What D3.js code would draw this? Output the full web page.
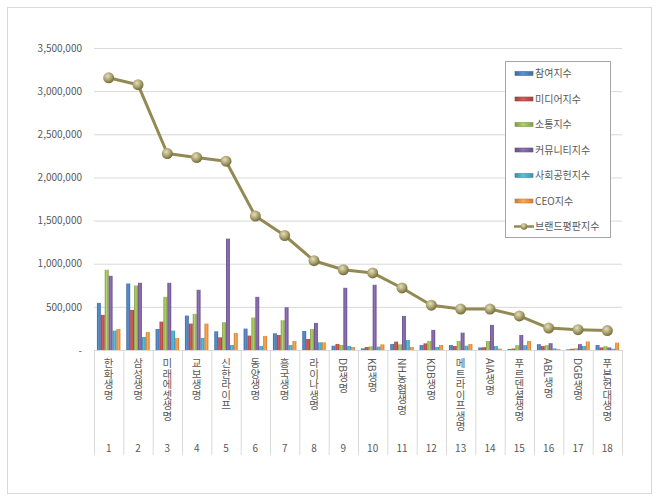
<!DOCTYPE html>
<html>
<head>
<meta charset="utf-8">
<script src="https://cdn.jsdelivr.net/npm/d3@7"></script>
<style>
  body { margin: 0; background: #fff; }
  text { font-family: "Noto Sans CJK KR", "Noto Sans", sans-serif; }
</style>
</head>
<body>
<svg id="chart"></svg>
<script>
const companies = ["한화생명", "삼성생명", "미래에셋생명", "교보생명", "신한라이프", "동양생명", "흥국생명", "라이나생명", "DB생명", "KB생명", "NH농협생명", "KDB생명", "메트라이프생명", "AIA생명", "푸르덴셜생명", "ABL생명", "DGB생명", "푸본현대생명"];
const ranks = ["1", "2", "3", "4", "5", "6", "7", "8", "9", "10", "11", "12", "13", "14", "15", "16", "17", "18"];

const participation = [546000, 771000, 244000, 399000, 217000, 248000, 194000, 221000, 50000, 19000, 70000, 58000, 58000, 29000, 12000, 68000, 8000, 58000];
const media = [407000, 465000, 329000, 306000, 147000, 167000, 174000, 128000, 70000, 35000, 97000, 77000, 46000, 33000, 17000, 46000, 13000, 30000];
const communication = [930000, 748000, 616000, 419000, 322000, 376000, 345000, 244000, 58000, 42000, 66000, 105000, 105000, 105000, 56000, 56000, 20000, 44000];
const community = [860000, 779000, 779000, 698000, 1291000, 616000, 496000, 314000, 721000, 756000, 395000, 233000, 201000, 291000, 174000, 79000, 68000, 30000];
const social = [225000, 151000, 225000, 140000, 58000, 46000, 58000, 89000, 46000, 39000, 116000, 35000, 50000, 46000, 56000, 19000, 46000, 15000];
const ceo = [244000, 209000, 140000, 306000, 198000, 163000, 105000, 89000, 35000, 66000, 35000, 58000, 70000, 17000, 105000, 10000, 99000, 85000];
const brand = [3155000, 3075000, 2277000, 2230000, 2188000, 1552000, 1327000, 1035000, 930000, 893000, 719000, 519000, 475000, 475000, 395000, 254000, 236000, 225000];

const seriesNames = ["참여지수", "미디어지수", "소통지수", "커뮤니티지수", "사회공헌지수", "CEO지수"];
const seriesValues = [participation, media, communication, community, social, ceo];
const seriesColors = ["#4f81bd", "#c0504d", "#9bbb59", "#8064a2", "#4bacc6", "#f79646"];
const lineName = "브랜드평판지수";
const yTicks = [0, 500000, 1000000, 1500000, 2000000, 2500000, 3000000, 3500000];

const W = 660, H = 503;
const m = { top: 48, right: 38, bottom: 153, left: 94 };
const iW = W - m.left - m.right;
const iH = H - m.top - m.bottom;

const svg = d3.select("#chart").attr("width", W).attr("height", H);

// outer chart border
svg.append("rect")
  .attr("x", 7.5).attr("y", 7.5).attr("width", 644).attr("height", 486)
  .attr("fill", "#fff").attr("stroke", "#d9d9d9");

// gradients for the bars and markers
const defs = svg.append("defs");
seriesColors.forEach((c, i) => {
  const gr = defs.append("linearGradient").attr("id", "bar" + i)
    .attr("x1", 0).attr("x2", 1).attr("y1", 0).attr("y2", 0);
  gr.append("stop").attr("offset", 0).attr("stop-color", d3.color(c).darker(0.6));
  gr.append("stop").attr("offset", 0.45).attr("stop-color", d3.color(c).brighter(0.35));
  gr.append("stop").attr("offset", 1).attr("stop-color", d3.color(c).darker(0.5));
});
const rg = defs.append("radialGradient").attr("id", "dot")
  .attr("cx", 0.4).attr("cy", 0.35).attr("r", 0.65);
rg.append("stop").attr("offset", 0).attr("stop-color", "#e4dfbd");
rg.append("stop").attr("offset", 0.6).attr("stop-color", "#a79e6a");
rg.append("stop").attr("offset", 1).attr("stop-color", "#746b3e");

const x = d3.scaleBand().domain(d3.range(companies.length)).range([0, iW]).padding(0);
const x1 = d3.scaleBand().domain(d3.range(seriesNames.length))
  .range([x.bandwidth() * 0.1, x.bandwidth() * 0.9]).padding(0);
const y = d3.scaleLinear().domain([0, 3500000]).range([iH, 0]);

const g = svg.append("g").attr("transform", `translate(${m.left},${m.top})`);

// Y axis with gridlines
g.append("g")
  .call(d3.axisLeft(y).tickValues(yTicks).tickSizeInner(-iW).tickSizeOuter(0).tickPadding(12)
    .tickFormat(d => d === 0 ? "-" : d3.format(",")(d)))
  .call(ax => {
    ax.select(".domain").remove();
    ax.selectAll(".tick line").attr("stroke", "#d9d9d9");
    ax.selectAll(".tick text").style("fill", "#595959").style("font-size", "10px");
  });

// category separators
g.append("g").selectAll("line")
  .data(d3.range(companies.length + 1)).join("line")
  .attr("x1", i => i < companies.length ? x(i) + 0.5 : iW + 0.5)
  .attr("x2", i => i < companies.length ? x(i) + 0.5 : iW + 0.5)
  .attr("y1", iH).attr("y2", iH + 105)
  .attr("stroke", "#d9d9d9");

// category names (vertical) and rank numbers
const cat = g.append("g").selectAll("g")
  .data(companies).join("g")
  .attr("transform", (d, i) => `translate(${x(i) + x.bandwidth() / 2},0)`);
cat.append("text")
  .attr("x", 0).attr("y", iH + 8)
  .style("writing-mode", "vertical-rl")
  .style("font-size", "10.5px").style("fill", "#595959")
  .text(d => d);
cat.append("text")
  .attr("x", 0).attr("y", iH + 102)
  .attr("text-anchor", "middle")
  .style("font-size", "10px").style("fill", "#595959")
  .text((d, i) => ranks[i]);

// bars
const groups = g.append("g").selectAll("g")
  .data(companies).join("g")
  .attr("transform", (d, i) => `translate(${x(i)},0)`);
groups.selectAll("rect")
  .data((d, i) => seriesValues.map((arr, s) => ({ s, v: arr[i] })))
  .join("rect")
  .attr("x", d => x1(d.s))
  .attr("width", x1.bandwidth())
  .attr("y", d => y(d.v))
  .attr("height", d => iH - y(d.v))
  .attr("fill", d => `url(#bar${d.s})`);

// brand reputation line
const line = d3.line().x((d, i) => x(i) + x.bandwidth() / 2).y(d => y(d));
g.append("path")
  .datum(brand)
  .attr("d", line)
  .attr("fill", "none")
  .attr("stroke", "#938953")
  .attr("stroke-width", 3)
  .attr("stroke-linejoin", "round");
g.append("g").selectAll("circle")
  .data(brand).join("circle")
  .attr("cx", (d, i) => x(i) + x.bandwidth() / 2)
  .attr("cy", d => y(d))
  .attr("r", 5.5)
  .attr("fill", "url(#dot)");

// legend
const lg = svg.append("g");
lg.append("rect")
  .attr("x", 505.5).attr("y", 61.5).attr("width", 105).attr("height", 176)
  .attr("fill", "#fff").attr("stroke", "#a6a6a6");
const rowY = d3.range(7).map(i => 73.5 + i * 25.5);
seriesNames.forEach((n, i) => {
  lg.append("rect")
    .attr("x", 515).attr("y", rowY[i] - 2).attr("width", 18).attr("height", 4)
    .attr("fill", `url(#bar${i})`).attr("stroke", d3.color(seriesColors[i]).darker(0.6)).attr("stroke-width", 0.6);
  lg.append("text")
    .attr("x", 535).attr("y", rowY[i]).attr("dy", "0.35em")
    .style("font-size", "10px").style("fill", "#595959")
    .text(n);
});
lg.append("line")
  .attr("x1", 514).attr("x2", 534).attr("y1", rowY[6]).attr("y2", rowY[6])
  .attr("stroke", "#938953").attr("stroke-width", 2.5);
lg.append("circle")
  .attr("cx", 524).attr("cy", rowY[6]).attr("r", 3.2).attr("fill", "url(#dot)");
lg.append("text")
  .attr("x", 535).attr("y", rowY[6]).attr("dy", "0.35em")
  .style("font-size", "10px").style("fill", "#595959")
  .text(lineName);
</script>
</body>
</html>
